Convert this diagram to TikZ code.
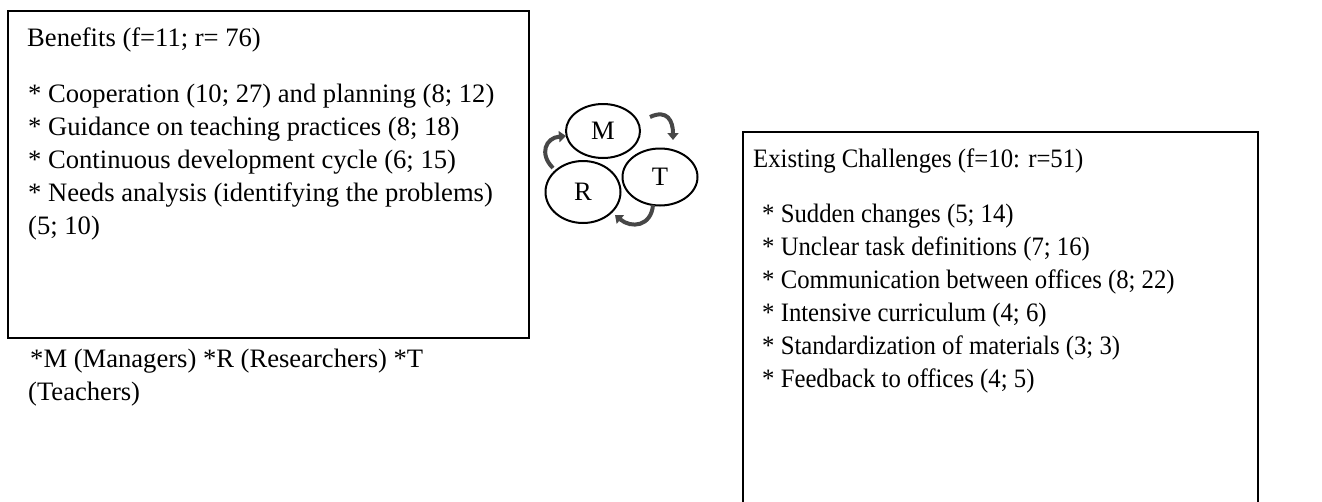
\documentclass[tikz,border=0pt]{standalone}
\usepackage{fontspec}
\setmainfont{Liberation Serif}
\newfontfamily\narrowserif{Liberation Serif}[FakeStretch=0.93]
\usetikzlibrary{shapes.geometric,arrows.meta}
\begin{document}
\begin{tikzpicture}[x=1pt,y=1pt,
  txt/.style={anchor=base west,inner sep=0pt,font=\fontsize{26.6}{33}\selectfont},
  ntxt/.style={anchor=base west,inner sep=0pt,font=\narrowserif\fontsize{26.6}{33}\selectfont},
  panel/.style={draw,line width=1.7pt,anchor=north west,inner sep=0pt},
  role/.style={draw,ellipse,line width=2pt,inner sep=0pt,font=\fontsize{26.6}{30}\selectfont},
  cyc/.style={line width=4pt,draw=black!72,-{Triangle[length=7pt,width=11pt]}}]
\clip (0,0) rectangle (1322,-501);
\fill[white] (0,0) rectangle (1322,-501);
% boxes
\node[panel,minimum width=521pt,minimum height=327pt] (benefits) at (7,-10) {};
\node[panel,minimum width=515pt,minimum height=400pt] (challenges) at (742,-131) {};
% left text
\node[txt] (bt) at (27,-46) {Benefits (f=11; r= 76)};
\node[txt] (b1) at (28,-102) {* Cooperation (10; 27) and planning (8; 12)};
\node[txt] (b2) at (28,-135) {* Guidance on teaching practices (8; 18)};
\node[txt] (b3) at (28,-168) {* Continuous development cycle (6; 15)};
\node[txt] (b4) at (28,-201) {* Needs analysis (identifying the problems)};
\node[txt] (b5) at (28,-234) {(5; 10)};
\node[txt] (f1) at (30,-367) {*M (Managers) *R (Researchers) *T};
\node[txt] (f2) at (28,-400) {(Teachers)};
% right text
\node[ntxt] (ct) at (753,-167) {Existing Challenges (f=10: r=51)};
\node[ntxt] (c1) at (762,-222) {* Sudden changes (5; 14)};
\node[ntxt] (c2) at (762,-255) {* Unclear task definitions (7; 16)};
\node[ntxt] (c3) at (762,-288) {* Communication between offices (8; 22)};
\node[ntxt] (c4) at (762,-321) {* Intensive curriculum (4; 6)};
\node[ntxt] (c5) at (762,-354) {* Standardization of materials (3; 3)};
\node[ntxt] (c6) at (762,-387) {* Feedback to offices (4; 5)};
% roles
\node[role,minimum width=74pt,minimum height=54pt] (M) at (603,-131) {M};
\node[role,minimum width=75pt,minimum height=62pt] (R) at (583,-192) {R};
\node[role,minimum width=75pt,minimum height=57pt] (T) at (660,-177) {T};
% cycle arrows
\coordinate (rs) at (553,-168);
\coordinate (me) at (566,-136);
\coordinate (ms) at (650,-117);
\coordinate (te) at (673,-140);
\coordinate (ts) at (653,-205);
\coordinate (re) at (615,-215);
\draw[cyc] (rs) to[out=135,in=185,looseness=1.5] (me);
\draw[cyc] (ms) to[out=25,in=90,looseness=1.5] (te);
\draw[cyc] (ts) to[out=-95,in=-40,looseness=1.4] (re);
\end{tikzpicture}
\end{document}
